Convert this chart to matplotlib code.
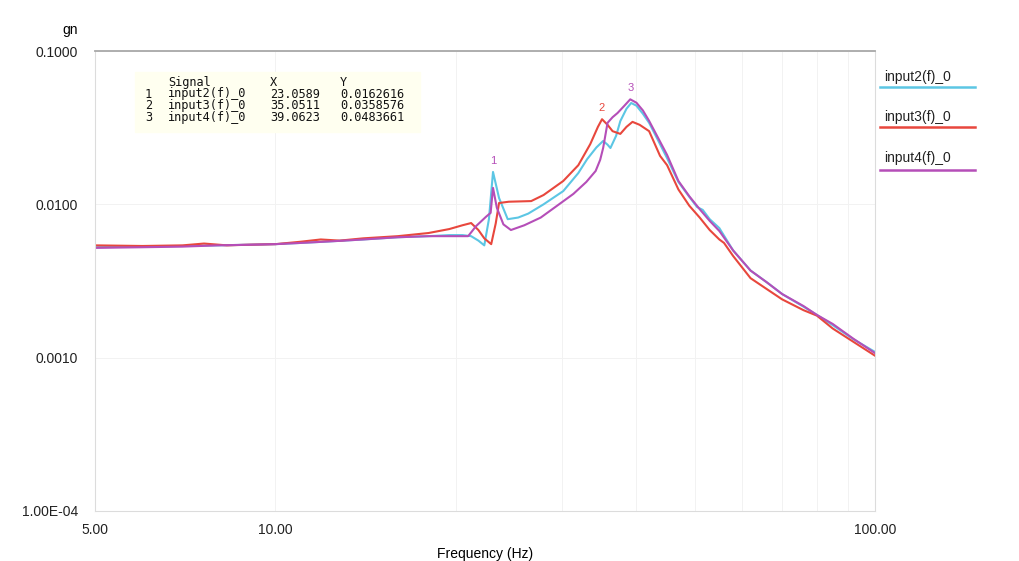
import numpy as np
import matplotlib
matplotlib.use("Agg")
import matplotlib.pyplot as plt
from matplotlib.ticker import NullFormatter, NullLocator, FixedLocator
from matplotlib.lines import Line2D

plt.rcParams['font.family'] = ['Liberation Sans', 'DejaVu Sans']

# --- datos ---
f_in2 = [5, 6, 7, 8, 9, 10, 11, 12, 13, 14, 16, 18, 19.5, 20.5, 21.2, 21.8, 22.3,
         22.7, 23.06, 23.6, 24.4, 25.4, 26.4, 28, 30.2, 32, 33.1, 34.3, 35.2, 35.8,
         36.2, 37.0, 37.6, 38.5, 39.2, 40, 41, 42, 43.5, 45, 47, 49, 50.5, 51.6,
         53, 55, 58, 62, 66, 70, 76, 80, 85, 92, 100]
v_in2 = [0.00525, 0.0053, 0.00535, 0.0054, 0.00545, 0.0055, 0.0056, 0.0057, 0.0058,
         0.0059, 0.0061, 0.0062, 0.0063, 0.0063, 0.0062, 0.0058, 0.0054,
         0.0080, 0.01626, 0.0110, 0.0080, 0.0082, 0.0087, 0.0100, 0.0122, 0.0160,
         0.0197, 0.0235, 0.0259, 0.0245, 0.0233, 0.0280, 0.0349, 0.0420, 0.0458,
         0.0440, 0.0390, 0.0340, 0.0260, 0.0200, 0.0140, 0.0112, 0.0096, 0.0092,
         0.0080, 0.0070, 0.0050, 0.0037, 0.0031, 0.0026, 0.00215, 0.0019, 0.00163,
         0.00132, 0.00109]

f_in3 = [5, 6, 7, 7.6, 8.3, 9, 10, 11, 11.9, 12.8, 14, 16, 18, 19.5, 20.5, 21.2,
         21.8, 22.3, 22.9, 23.3, 23.6, 24.5, 26.7, 28, 30.2, 32, 33.5, 34.5, 35.05,
         35.8, 36.5, 37.6, 38.5, 39.4, 40.5, 42, 43.8, 45, 47, 49, 51, 53, 55, 56,
         58, 62, 66, 70, 76, 80, 85, 92, 100]
v_in3 = [0.0054, 0.00535, 0.0054, 0.00555, 0.0054, 0.00545, 0.0055, 0.0057, 0.0059,
         0.0058, 0.0060, 0.0062, 0.0065, 0.0069, 0.0073, 0.00755,
         0.0068, 0.0060, 0.0055, 0.0075, 0.0102, 0.0104, 0.0105, 0.0115, 0.0142,
         0.0180, 0.0247, 0.0320, 0.0359, 0.0330, 0.0300, 0.0288, 0.0320, 0.0345,
         0.0330, 0.0300, 0.0207, 0.0180, 0.0125, 0.0098, 0.0082, 0.0068, 0.0059,
         0.0056, 0.0046, 0.0033, 0.0028, 0.0024, 0.00204, 0.00188, 0.00155,
         0.00127, 0.00103]

f_in4 = [5, 6, 7, 8, 9, 10, 11, 12, 13, 14, 16, 18, 19.5, 20.96, 21.6, 22.45, 22.85,
         23.06, 23.4, 24.0, 24.7, 26, 27.7, 29.5, 31.4, 33, 34.2, 34.8, 35.2, 35.8,
         36.5, 37.2, 38.2, 39.06, 40, 41, 42, 43.5, 45, 47, 49, 51, 53, 55, 58, 62,
         66, 70, 76, 80, 85, 92, 100]
v_in4 = [0.0052, 0.00525, 0.0053, 0.0054, 0.00545, 0.0055, 0.0056, 0.0057, 0.0058,
         0.0059, 0.0061, 0.0062, 0.0062, 0.0062, 0.0072, 0.0083, 0.0088,
         0.0128, 0.0095, 0.0074, 0.0068, 0.0073, 0.0082, 0.0098, 0.0117, 0.0140,
         0.0165, 0.0195, 0.0233, 0.0340, 0.0370, 0.0394, 0.0440, 0.0484, 0.0460,
         0.0410, 0.0350, 0.0270, 0.0210, 0.0142, 0.0113, 0.0093, 0.0078, 0.0067,
         0.0050, 0.0037, 0.0031, 0.0026, 0.00217, 0.0019, 0.00166, 0.00133, 0.00107]

signals = ['input2(f)_0', 'input3(f)_0', 'input4(f)_0']
peak_x = [23.0589, 35.0511, 39.0623]
peak_y = [0.0162616, 0.0358576, 0.0483661]

colores = ['#5cc6e4', '#e8473d', '#b54eb8']

W, H = 1020, 561
def px(x, y):
    return x / W, 1 - y / H

fig = plt.figure(figsize=(W / 100, H / 100), dpi=100)
ax = fig.add_axes([95 / W, 1 - 511 / H, 780 / W, 460 / H])

ax.plot(f_in2, v_in2, color=colores[0], lw=1.5)
ax.plot(f_in3, v_in3, color=colores[1], lw=1.5)
ax.plot(f_in4, v_in4, color=colores[2], lw=1.5)

ax.set_xscale('log')
ax.set_yscale('log')
ax.set_xlim(5, 100)
ax.set_ylim(1e-4, 0.1)

ax.set_xticks([5, 10, 100])
ax.set_xticklabels(['5.00', '10.00', '100.00'])
ax.xaxis.set_minor_locator(FixedLocator([20, 30, 40, 50, 60, 70, 80, 90]))
ax.xaxis.set_minor_formatter(NullFormatter())
ax.set_yticks([1e-4, 1e-3, 1e-2, 1e-1])
ax.set_yticklabels(['1.00E-04', '0.0010', '0.0100', '0.1000'])
ax.yaxis.set_minor_locator(NullLocator())
ax.tick_params(which='both', length=0, labelsize=10, colors='#222222')
ax.tick_params(axis='x', pad=9)
ax.tick_params(axis='y', pad=12)
ax.grid(which='both', color='#f2f2f2', lw=0.7)

for s in ['left', 'right', 'bottom']:
    ax.spines[s].set_color('#dcdcdc')
ax.spines['top'].set_color('#a8a8a8')
ax.spines['top'].set_linewidth(1.3)

ax.set_xlabel('Frequency (Hz)', fontsize=10, labelpad=7)
fig.text(*px(70, 30), 'gn', fontsize=10, ha='center', va='center')

# etiquetas de los picos
for i, (x, y) in enumerate(zip(peak_x, peak_y)):
    ax.annotate(str(i + 1), (x, y), xytext=(0, 6), textcoords='offset pixels',
                ha='center', va='bottom', fontsize=8, color=colores[[2, 1, 2][i]])

# tabla de cursores
fig.patches.append(plt.Rectangle(px(135, 132), 285 / W, 60 / H,
                                 transform=fig.transFigure, color='#fffff0', zorder=0))
mono = dict(family='DejaVu Sans Mono', fontsize=8.6, va='center', color='#111111')
fig.text(*px(168, 82), 'Signal', **mono)
fig.text(*px(270, 82), 'X', **mono)
fig.text(*px(340, 82), 'Y', **mono)
for i in range(3):
    yy = 94 + i * 11.8
    fig.text(*px(145, yy), str(i + 1), **mono)
    fig.text(*px(168, yy), signals[i], **mono)
    fig.text(*px(270, yy), '%.4f' % peak_x[i], **mono)
    fig.text(*px(340, yy), '%.7f' % peak_y[i], **mono)

# leyenda a la derecha
for i, (ty, ly) in enumerate([(77, 87), (117, 127), (158, 170)]):
    fig.text(*px(884, ty), signals[i], fontsize=10, va='center', color='#222222')
    fig.lines.append(Line2D([880 / W, 975 / W], [1 - ly / H, 1 - ly / H],
                            transform=fig.transFigure, color=colores[i], lw=1.8))

fig.savefig('out.png', dpi=100)
